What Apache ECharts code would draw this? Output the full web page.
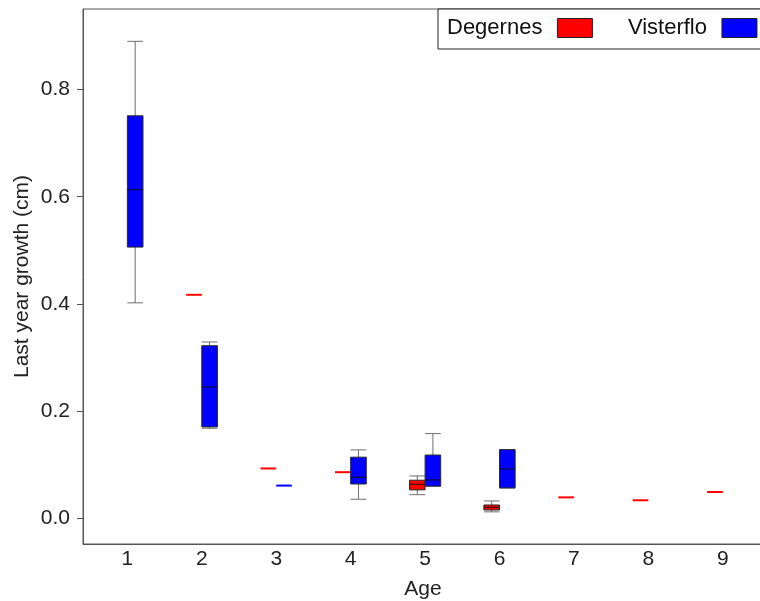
<!DOCTYPE html>
<html>
<head>
<meta charset="utf-8">
<script src="https://cdn.jsdelivr.net/npm/echarts@6/dist/echarts.min.js"></script>
<style>
  html, body { margin: 0; padding: 0; background: #fff; }
  #chart { width: 760px; height: 601px; }
</style>
</head>
<body>
<div id="chart"></div>
<script>
// Age classes on the x axis
const ages = [1, 2, 3, 4, 5, 6, 7, 8, 9];

// Five-number summaries per age: [low whisker, Q1, median, Q3, high whisker];
// a single number means only one observation (drawn as a flat bar).
const degernes = [
  null,
  [0.417],
  [0.093],
  [0.086],
  [0.044, 0.053, 0.0635, 0.071, 0.079],
  [0.012, 0.0155, 0.0205, 0.0248, 0.0323],
  [0.039],
  [0.0336],
  [0.049]
];
const visterflo = [
  [0.402, 0.506, 0.613, 0.751, 0.890],
  [0.168, 0.1705, 0.245, 0.322, 0.329],
  [0.061],
  [0.0355, 0.064, 0.0766, 0.114, 0.1276],
  [0.060, 0.060, 0.0715, 0.118, 0.158],
  [0.0566, 0.0566, 0.092, 0.128, 0.128],
  null,
  null,
  null
];

const xTicks = [1, 2, 3, 4, 5, 6, 7, 8, 9];
const yTicks = [0, 0.2, 0.4, 0.6, 0.8];

// Box geometry in axis units
const PAIR_SHIFT = 0.105;
const HALF_WIDTH = 0.105;
const FONT = '"Liberation Sans", Arial, sans-serif';

function toRows(stats) {
  const rows = [];
  ages.forEach((a, i) => {
    const s = stats[i];
    if (!s) return;
    if (s.length === 1) rows.push([a, s[0], s[0], s[0], s[0], s[0]]);
    else rows.push([a].concat(s));
  });
  return rows;
}

function renderBox(params, api) {
  const age = api.value(0);
  const lo = api.value(1), q1 = api.value(2), med = api.value(3),
        q3 = api.value(4), hi = api.value(5);
  const c = age + (params.seriesIndex === 0 ? -PAIR_SHIFT : PAIR_SHIFT);
  const xl = api.coord([c - HALF_WIDTH, med])[0];
  const xr = api.coord([c + HALF_WIDTH, med])[0];
  const xm = api.coord([c, med])[0];
  const y = v => api.coord([c, v])[1];
  const fill = api.visual('color');

  if (lo === hi) {
    return {
      type: 'line',
      shape: { x1: xl, y1: y(med), x2: xr, y2: y(med) },
      style: { stroke: fill, lineWidth: 2 }
    };
  }
  const whisker = { stroke: '#6e6e6e', lineWidth: 1 };
  return {
    type: 'group',
    children: [
      { type: 'line', shape: { x1: xm, y1: y(hi), x2: xm, y2: y(q3) }, style: whisker },
      { type: 'line', shape: { x1: xm, y1: y(q1), x2: xm, y2: y(lo) }, style: whisker },
      { type: 'line', shape: { x1: xl, y1: y(hi), x2: xr, y2: y(hi) }, style: whisker },
      { type: 'line', shape: { x1: xl, y1: y(lo), x2: xr, y2: y(lo) }, style: whisker },
      {
        type: 'rect',
        shape: { x: xl, y: y(q3), width: xr - xl, height: y(q1) - y(q3) },
        style: { fill: fill, stroke: '#2a2a2a', lineWidth: 1 }
      },
      {
        type: 'line',
        shape: { x1: xl, y1: y(med), x2: xr, y2: y(med) },
        style: { stroke: '#111', lineWidth: 1 }
      }
    ]
  };
}

const chart = echarts.init(document.getElementById('chart'), null, { renderer: 'canvas' });

chart.setOption({
  animation: false,
  backgroundColor: '#fff',
  textStyle: { fontFamily: FONT },
  grid: {
    left: 83, top: 9, right: -3, bottom: 57,
    outerBoundsMode: 'none',
    show: true, borderColor: '#555', borderWidth: 1, backgroundColor: 'transparent'
  },
  legend: {
    left: 438, top: 9,
    orient: 'horizontal',
    width: 400,
    data: ['Degernes', 'Visterflo'],
    align: 'right',
    icon: 'rect',
    itemWidth: 35,
    itemHeight: 19,
    itemGap: 35,
    padding: [8, 30, 10, 9],
    backgroundColor: '#fff',
    borderColor: '#222',
    borderWidth: 1,
    borderRadius: 0,
    itemStyle: { borderColor: '#222', borderWidth: 1 },
    formatter: name => '{t|' + name + '}',
    textStyle: {
      fontFamily: FONT, fontSize: 22, color: '#111',
      rich: { t: { fontFamily: FONT, fontSize: 22, color: '#111', padding: [0, 10, 0, 0] } }
    }
  },
  xAxis: {
    type: 'value',
    min: 0.404,
    max: 9.54,
    name: 'Age',
    nameLocation: 'middle',
    nameGap: 35,
    nameMoveOverlap: false,
    nameTextStyle: { fontFamily: FONT, fontSize: 21, color: '#222' },
    axisLine: { show: true, onZero: false, lineStyle: { color: '#555', width: 1 } },
    axisTick: { show: false },
    splitLine: { show: false },
    axisLabel: {
      customValues: xTicks,
      fontFamily: FONT, fontSize: 21, color: '#222', margin: 5
    }
  },
  yAxis: {
    type: 'value',
    min: -0.048,
    max: 0.9503,
    name: 'Last year growth (cm)',
    nameLocation: 'middle',
    nameRotate: 90,
    nameGap: 50,
    nameMoveOverlap: false,
    nameTextStyle: { fontFamily: FONT, fontSize: 21, color: '#222' },
    axisLine: { show: true, onZero: false, lineStyle: { color: '#555', width: 1 } },
    axisTick: { show: true, length: 6, customValues: yTicks, lineStyle: { color: '#555' } },
    splitLine: { show: false },
    axisLabel: {
      customValues: yTicks,
      formatter: v => v.toFixed(1),
      fontFamily: FONT, fontSize: 21, color: '#222', margin: 13
    }
  },
  series: [
    {
      name: 'Degernes',
      type: 'custom',
      renderItem: renderBox,
      itemStyle: { color: '#ff0000' },
      encode: { x: 0, y: [1, 2, 3, 4, 5] },
      data: toRows(degernes)
    },
    {
      name: 'Visterflo',
      type: 'custom',
      renderItem: renderBox,
      itemStyle: { color: '#0000ff' },
      encode: { x: 0, y: [1, 2, 3, 4, 5] },
      data: toRows(visterflo)
    }
  ]
});
</script>
</body>
</html>
